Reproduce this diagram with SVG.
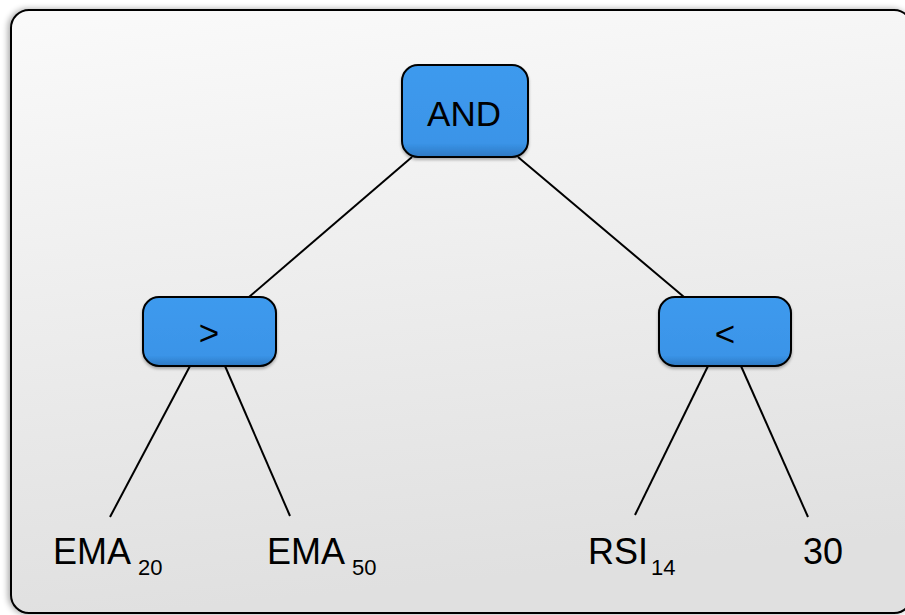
<svg xmlns="http://www.w3.org/2000/svg" width="905" height="615" viewBox="0 0 905 615">
<defs>
<linearGradient id="bg" x1="0" y1="0" x2="0.15" y2="1">
<stop offset="0" stop-color="#fafafa"/>
<stop offset="0.5" stop-color="#ededed"/>
<stop offset="1" stop-color="#e0e0e0"/>
</linearGradient>
<linearGradient id="nodeFill" x1="0" y1="0" x2="0" y2="1">
<stop offset="0" stop-color="#3e9aee"/>
<stop offset="0.85" stop-color="#3a94e8"/>
<stop offset="1" stop-color="#2d78c2"/>
</linearGradient>
<filter id="shadow" x="-5%" y="-5%" width="110%" height="110%">
<feGaussianBlur in="SourceAlpha" stdDeviation="3"/>
<feOffset dx="-2" dy="0" result="b"/>
<feComponentTransfer><feFuncA type="linear" slope="0.35"/></feComponentTransfer>
<feMerge><feMergeNode/><feMergeNode in="SourceGraphic"/></feMerge>
</filter>
<filter id="nshadow" x="-10%" y="-10%" width="120%" height="130%">
<feGaussianBlur in="SourceAlpha" stdDeviation="1.5"/>
<feOffset dx="0" dy="2"/>
<feComponentTransfer><feFuncA type="linear" slope="0.3"/></feComponentTransfer>
<feMerge><feMergeNode/><feMergeNode in="SourceGraphic"/></feMerge>
</filter>
</defs>
<style>
.node{fill:url(#nodeFill);stroke:#000;stroke-width:2}
.edge{stroke:#000;stroke-width:2;fill:none}
.lbl{font-family:"Liberation Sans",Arial,sans-serif;fill:#000}
</style>
<rect x="0" y="0" width="905" height="615" fill="#ffffff"/>
<rect id="frame" x="11" y="10" width="901" height="603" rx="18" fill="url(#bg)" stroke="#000" stroke-width="2" filter="url(#shadow)"/>
<g id="connectors">
<line class="edge" x1="412" y1="157" x2="249" y2="297"/>
<line class="edge" x1="518" y1="157" x2="684" y2="297"/>
<line class="edge" x1="190" y1="366" x2="110" y2="517"/>
<line class="edge" x1="225" y1="366" x2="290" y2="516"/>
<line class="edge" x1="708" y1="366" x2="635" y2="515"/>
<line class="edge" x1="741" y1="366" x2="808" y2="517"/>
</g>
<g id="node-and">
<rect class="node" x="402" y="65" width="126" height="92" rx="16" filter="url(#nshadow)"/>
<text class="lbl" x="464" y="126" font-size="35" text-anchor="middle">AND</text>
</g>
<g id="node-gt">
<rect class="node" x="143" y="297" width="133" height="69" rx="16" filter="url(#nshadow)"/>
<text class="lbl" x="209" y="345" font-size="35" text-anchor="middle">&gt;</text>
</g>
<g id="node-lt">
<rect class="node" x="659" y="297" width="132" height="69" rx="16" filter="url(#nshadow)"/>
<text class="lbl" x="725" y="346" font-size="35" text-anchor="middle">&lt;</text>
</g>
<g id="leaf-ema20">
<text class="lbl" x="53" y="564" font-size="36">EMA</text>
<text class="lbl" x="138" y="575" font-size="22">20</text>
</g>
<g id="leaf-ema50">
<text class="lbl" x="267" y="564" font-size="36">EMA</text>
<text class="lbl" x="352" y="575" font-size="22">50</text>
</g>
<g id="leaf-rsi14">
<text class="lbl" x="588" y="564" font-size="36">RSI</text>
<text class="lbl" x="651" y="575" font-size="22">14</text>
</g>
<g id="leaf-30">
<text class="lbl" x="803" y="564" font-size="36">30</text>
</g>
</svg>
